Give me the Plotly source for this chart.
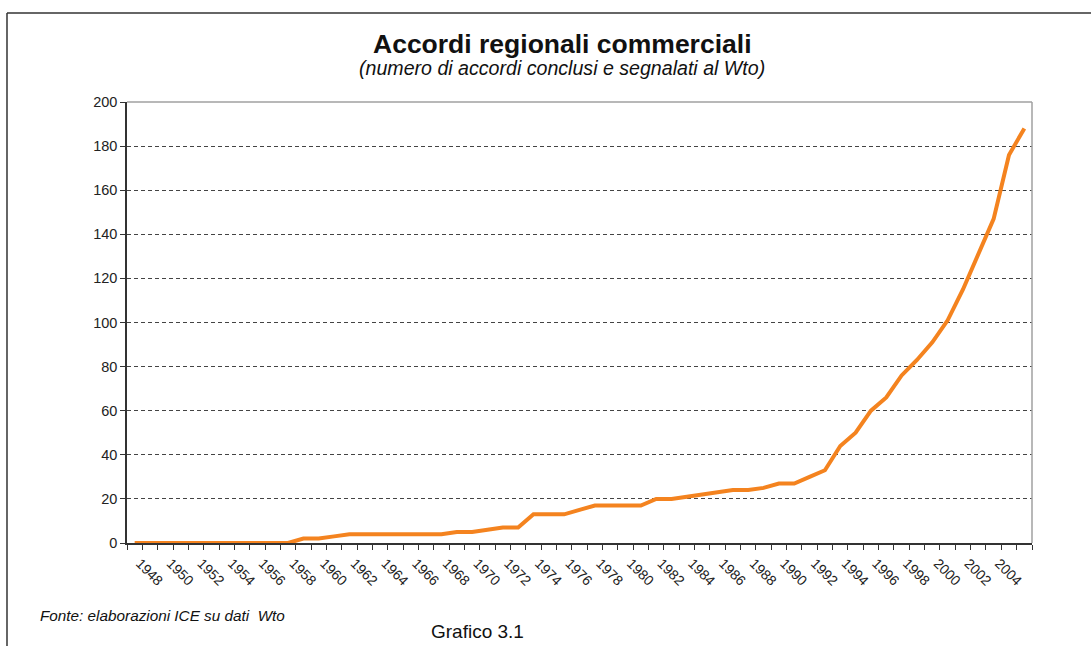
import plotly.graph_objects as go

# anni e numero cumulato di accordi
years = list(range(1948, 2007))
accordi = [0, 0, 0, 0, 0, 0, 0, 0, 0, 0, 0,          # 1948-1958
           2, 2, 3, 4, 4, 4, 4, 4, 4, 4,              # 1959-1968
           5, 5, 6, 7, 7, 13, 13, 13, 15, 17,         # 1969-1978
           17, 17, 17, 20, 20, 21, 22, 23, 24, 24,    # 1979-1988
           25, 27, 27, 30, 33, 44, 50, 60, 66, 76,    # 1989-1998
           83, 91, 101, 115, 131, 147, 176, 188]      # 1999-2006
tick_years = list(range(1948, 2005, 2))
tick_labels = [str(y) for y in tick_years]
y_ticks = list(range(0, 201, 20))

FONT = "Liberation Sans, Arial, sans-serif"

fig = go.Figure()

fig.add_trace(go.Scatter(
    x=years, y=accordi,
    mode="lines",
    line=dict(color="#f4831f", width=4),
    hoverinfo="x+y",
    showlegend=False,
))

fig.update_layout(
    width=1091, height=646,
    margin=dict(l=127, r=59, t=102, b=103),
    paper_bgcolor="white",
    plot_bgcolor="white",
    font=dict(family=FONT, color="#222", size=12),
    xaxis=dict(
        range=[1947.5, 2006.5],
        tickmode="array",
        # etichette spostate leggermente a destra come nell'originale
        tickvals=[y + 0.35 for y in tick_years],
        ticktext=tick_labels,
        tickangle=45,
        ticks="",
        ticklabelstandoff=5,
        tickfont=dict(size=14, color="#222"),
        showgrid=False,
        zeroline=False,
        showline=True,
        linecolor="#333",
        linewidth=1.5,
        minor=dict(ticks="outside", ticklen=5, tickcolor="#333",
                   tick0=1947.5, dtick=1, showgrid=False),
    ),
    yaxis=dict(
        range=[0, 200],
        tickmode="array",
        tickvals=y_ticks,
        ticks="outside",
        ticklen=5,
        tickcolor="#333",
        tickfont=dict(size=14.5, color="#222"),
        showgrid=True,
        gridcolor="#444",
        gridwidth=1,
        griddash="4px,3px",
        zeroline=False,
        showline=True,
        linecolor="#333",
        linewidth=1.5,
    ),
)

# bordo grigio superiore e destro dell'area del grafico
fig.add_shape(type="line", xref="paper", yref="paper", x0=0, x1=1, y0=1, y1=1,
              line=dict(color="#a0a0a0", width=1.5))
fig.add_shape(type="line", xref="paper", yref="paper", x0=1, x1=1, y0=0, y1=1,
              line=dict(color="#a0a0a0", width=1.5))

# cornice esterna (sinistra e in alto)
fig.add_shape(type="line", xref="paper", yref="paper",
              x0=-0.1326, x1=1.1, y0=1.2018, y1=1.2018,
              line=dict(color="#333", width=1.5))
fig.add_shape(type="line", xref="paper", yref="paper",
              x0=-0.1326, x1=-0.1326, y0=-0.3, y1=1.2018,
              line=dict(color="#333", width=1.5))

fig.add_annotation(xref="paper", yref="paper", x=0.4807, y=1.1315,
                   text="<b>Accordi regionali commerciali</b>", showarrow=False,
                   xanchor="center", yanchor="middle",
                   font=dict(size=26.5, color="#111"))
fig.add_annotation(xref="paper", yref="paper", x=0.4807, y=1.0772,
                   text="<i>(numero di accordi conclusi e segnalati al Wto)</i>",
                   showarrow=False, xanchor="center", yanchor="middle",
                   font=dict(size=19.6, color="#111"))
fig.add_annotation(xref="paper", yref="paper", x=-0.0983, y=-0.1633,
                   text="<i>Fonte: elaborazioni ICE su dati  Wto</i>",
                   showarrow=False, xanchor="left", yanchor="middle",
                   font=dict(size=15.3, color="#111"))
fig.add_annotation(xref="paper", yref="paper", x=0.3878, y=-0.2018,
                   text="Grafico 3.1", showarrow=False,
                   xanchor="center", yanchor="middle",
                   font=dict(size=19, color="#111"))

fig.write_html("out.html", config={"displayModeBar": False},
               post_script="document.body.style.margin='0';")
